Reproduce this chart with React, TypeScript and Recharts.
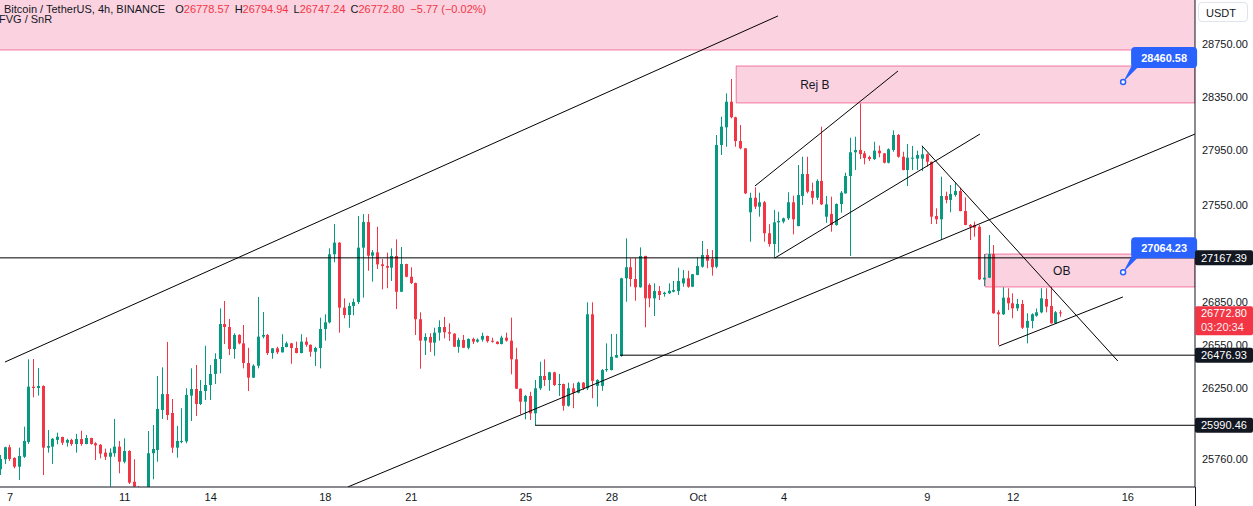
import React from "react";
import { ComposedChart, Bar, XAxis, YAxis, ReferenceArea, ReferenceLine, ReferenceDot } from "recharts";

// BTC/USDT 4h candles, index 0 = Sep 7 00:00 (first two are the partial ones at the left edge)
const FIRST_INDEX = -2;

const opens = [
  25690, 25758, 25840, 25767, 25707, 25775, 25876, 26257, 26248, 26262, 25837, 25844, 25890, 25910, 25871, 25890,
  25862, 25896, 25862, 25903, 25867, 25857, 25803, 25775, 25799, 25844, 25741, 25814, 25605, 25563, 25516, 25540,
  25799, 25821, 26096, 26206, 26075, 25837, 25876, 25880, 26195, 26241, 26137, 26227, 26269, 26346, 26450, 26696,
  26675, 26520, 26619, 26560, 26422, 26320, 26403, 26607, 26619, 26492, 26525, 26497, 26534, 26560, 26527, 26492,
  26572, 26550, 26501, 26527, 26661, 26708, 27193, 27277, 26812, 26760, 26824, 26852, 27241, 27426, 27183, 27207,
  27121, 27109, 27097, 27181, 26925, 27123, 27032, 26987, 26730, 26579, 26605, 26565, 26635, 26675, 26638, 26628,
  26536, 26584, 26529, 26591, 26572, 26586, 26612, 26578, 26572, 26555, 26600, 26579, 26448, 26243, 26153, 26193,
  26073, 26246, 26332, 26304, 26357, 26269, 26276, 26125, 26246, 26215, 26285, 26246, 26765, 26263, 26263, 26373,
  26373, 26460, 26471, 27021, 27100, 27016, 26957, 27181, 26973, 26878, 26930, 26909, 26914, 26925, 26930, 26985,
  27021, 26961, 27045, 27104, 27188, 27159, 27104, 27991, 28122, 28313, 28197, 28020, 27966, 27497, 27603, 27538,
  27570, 27345, 27267, 27424, 27429, 27453, 27570, 27397, 27616, 27777, 27652, 27603, 27726, 27465, 27485, 27405,
  27557, 27635, 27762, 27937, 27954, 27929, 27902, 27887, 27949, 27929, 27860, 27954, 28065, 27904, 27806, 27890,
  27890, 27890, 27922, 27867, 27470, 27446, 27616, 27587, 27623, 27652, 27506, 27405, 27405, 27392, 27013, 27025,
  27195, 26779, 26765, 26883, 26843, 26807, 26838, 26670, 26718, 26755, 26779, 26873, 26824, 26701, 26778.57,
];
const highs = [
  25787, 25844, 25857, 25771, 25837, 25981, 26448, 26450, 26387, 26267, 25958, 25903, 25940, 25912, 25898, 25898,
  25931, 25953, 25924, 25905, 25874, 25862, 25830, 25833, 26034, 25883, 25901, 25819, 25758, 25576, 25563, 25951,
  25992, 26332, 26392, 26570, 26172, 25986, 26108, 26246, 26385, 26408, 26304, 26543, 26408, 26490, 26807, 26859,
  26732, 26631, 26624, 26689, 26529, 26413, 26888, 26781, 26626, 26527, 26536, 26624, 26572, 26562, 26572, 26624,
  26602, 26552, 26536, 26741, 26765, 27236, 27412, 27280, 26878, 26847, 26876, 27470, 27484, 27484, 27224, 27392,
  27159, 27205, 27236, 27301, 27246, 27125, 27100, 26990, 26779, 26631, 26631, 26670, 26722, 26746, 26701, 26631,
  26600, 26619, 26595, 26600, 26595, 26635, 26614, 26600, 26574, 26614, 26635, 26741, 26529, 26245, 26200, 26222,
  26304, 26431, 26448, 26361, 26361, 26346, 26278, 26285, 26281, 26292, 26290, 26850, 26850, 26309, 26380, 26560,
  26626, 26626, 27025, 27308, 27164, 27166, 27243, 27183, 26985, 26985, 26966, 26925, 26985, 27002, 27097, 27080,
  27075, 27052, 27171, 27289, 27231, 27224, 28065, 28201, 28376, 28484, 28201, 28139, 27968, 27640, 27679, 27640,
  27579, 27410, 27514, 27501, 27458, 27643, 27618, 27843, 27904, 27904, 27713, 27738, 28127, 27616, 27611, 27562,
  27652, 27786, 28045, 28052, 28301, 27946, 27912, 28015, 27986, 27931, 27966, 28099, 28072, 27941, 27998, 27984,
  27949, 27986, 27929, 27869, 27526, 27757, 27647, 27696, 27716, 27676, 27606, 27412, 27429, 27405, 27195, 27332,
  27260, 26795, 26957, 26950, 26914, 26874, 26866, 26772, 26772, 26806, 26950, 26950, 26961, 26788, 26794.94,
];
const lows = [
  25651, 25726, 25746, 25696, 25617, 25767, 25862, 26184, 26195, 25651, 25803, 25726, 25860, 25855, 25844, 25850,
  25803, 25850, 25860, 25858, 25753, 25764, 25753, 25572, 25775, 25662, 25730, 25590, 25549, 25482, 25448, 25516,
  25622, 25741, 26034, 26027, 25801, 25769, 25867, 25867, 26020, 26054, 26130, 26165, 26165, 26276, 26350, 26555,
  26478, 26452, 26553, 26385, 26227, 26318, 26385, 26595, 26478, 26452, 26485, 26495, 26532, 26417, 26490, 26490,
  26536, 26466, 26401, 26385, 26579, 26701, 27136, 26635, 26737, 26670, 26758, 26838, 26883, 27075, 26997, 27088,
  26942, 26950, 27002, 26802, 26923, 27028, 26980, 26619, 26382, 26478, 26501, 26473, 26579, 26595, 26577, 26534,
  26494, 26527, 26518, 26555, 26565, 26572, 26565, 26565, 26553, 26553, 26572, 26343, 26241, 26066, 26032, 26027,
  25992, 26234, 26262, 26229, 26262, 26193, 26091, 26119, 26108, 26211, 26234, 26234, 26177, 26119, 26229, 26361,
  26370, 26458, 26466, 26854, 26961, 26861, 26954, 26673, 26815, 26753, 26866, 26890, 26909, 26921, 26902, 26961,
  26954, 26958, 27043, 27097, 27093, 27040, 27093, 27917, 27978, 28189, 27978, 27959, 27630, 27284, 27521, 27465,
  27284, 27248, 27164, 27205, 27417, 27441, 27337, 27395, 27550, 27635, 27555, 27587, 27550, 27421, 27356, 27400,
  27494, 27633, 27181, 27806, 27887, 27848, 27873, 27880, 27900, 27855, 27855, 27941, 27897, 27804, 27689, 27806,
  27806, 27799, 27831, 27412, 27412, 27296, 27562, 27497, 27611, 27504, 27403, 27296, 27320, 27008, 26966, 27023,
  26770, 26548, 26760, 26795, 26737, 26788, 26661, 26560, 26666, 26748, 26772, 26779, 26699, 26696, 26747.24,
];
const closes = [
  25760, 25840, 25760, 25707, 25780, 25883, 26257, 26248, 26262, 25837, 25848, 25898, 25912, 25871, 25890, 25862,
  25896, 25862, 25903, 25862, 25853, 25796, 25775, 25803, 25844, 25741, 25814, 25599, 25573, 25516, 25536, 25799,
  25828, 26103, 26206, 26061, 25837, 25883, 25883, 26200, 26241, 26137, 26227, 26269, 26346, 26450, 26696, 26675,
  26520, 26619, 26560, 26422, 26320, 26403, 26607, 26619, 26492, 26525, 26497, 26534, 26560, 26527, 26492, 26572,
  26550, 26501, 26527, 26661, 26708, 27193, 27277, 26812, 26760, 26824, 26852, 27241, 27426, 27183, 27207, 27121,
  27109, 27097, 27181, 26925, 27123, 27032, 26987, 26730, 26579, 26605, 26565, 26635, 26675, 26638, 26628, 26536,
  26584, 26529, 26591, 26572, 26586, 26612, 26575, 26572, 26555, 26600, 26579, 26448, 26243, 26153, 26193, 26073,
  26246, 26332, 26304, 26357, 26269, 26276, 26125, 26246, 26215, 26285, 26246, 26765, 26297, 26304, 26373, 26380,
  26466, 26478, 27021, 27100, 27016, 26957, 27181, 26878, 26878, 26930, 26902, 26918, 26932, 26937, 27002, 27021,
  26961, 27050, 27109, 27188, 27147, 27100, 27991, 28127, 28313, 28197, 28020, 27966, 27635, 27603, 27538, 27570,
  27345, 27267, 27424, 27434, 27453, 27570, 27446, 27623, 27777, 27647, 27603, 27726, 27555, 27555, 27405, 27557,
  27640, 27762, 27937, 27954, 27924, 27894, 27887, 27949, 27929, 27860, 27959, 28065, 27904, 27806, 27897, 27897,
  27917, 27922, 27867, 27465, 27446, 27616, 27587, 27630, 27652, 27506, 27405, 27392, 27385, 27013, 27025, 27195,
  26772, 26765, 26883, 26843, 26807, 26838, 26670, 26718, 26765, 26779, 26878, 26819, 26701, 26779, 26772.80,
];

const dayTicks = [0, 24, 42, 66, 84, 108, 126, 144, 162, 192, 210, 234];
const dayLabels = ["7", "11", "14", "18", "21", "25", "28", "Oct", "4", "9", "12", "16"];
const priceTicks = [28750, 28350, 27950, 27550, 26850, 26550, 26250, 25760];

const X_MIN = -2.11;
const X_MAX = 248.05;
const Y_MIN = 25569.5;
const Y_MAX = 29085.4;

// drawings: [candle index, price] pairs
const trendLines = [
  [[-1.07, 26429], [160.75, 28963]],
  [[70.73, 25570], [248.05, 28072]],
  [[155.93, 27689], [185.87, 28544]],
  [[160.12, 27167], [203.03, 28072]],
  [[190.9, 27984], [231.9, 26436]],
  [[207.0, 26541], [232.96, 26888]],
];
const levelPrices = [27167.39, 26476.93, 25990.46];
const levelStarts = [X_MIN, 127.7, 109.9];

const zoneTop = { from: X_MIN, low: 28703, high: Y_MAX };
const zoneRej = { from: 152, low: 28304, high: 28582, label: "Rej B", offset: 64 };
const zoneOB = { from: 204.1, low: 26959, high: 27195, label: "OB", offset: 68 };

const noteIndex = 233;
const notePrices = [28460.58, 27064.23];

const lastPrice = 26772.8;
const countdown = "03:20:34";

const legendValues = [
  ["O", "26778.57"],
  ["H", "26794.94"],
  ["L", "26747.24"],
  ["C", "26772.80"],
];
const legendChange = "−5.77 (−0.02%)";

const GREEN = "#089981";
const RED = "#f23645";
const INK = "#131722";
const PINK = "rgba(233,30,99,0.2)";
const PINK_LINE = "rgba(233,30,99,0.55)";
const BLUE = "#2962ff";

const candles = opens.map((o, k) => ({
  i: k + FIRST_INDEX,
  open: o,
  high: highs[k],
  low: lows[k],
  close: closes[k],
  range: [lows[k], highs[k]],
}));

function Candle(props: any) {
  const { x, y, width, height, payload } = props;
  if (x == null || y == null || !payload) return null;
  const { open, close, high, low } = payload;
  const top = Math.min(y, y + height);
  const span = Math.abs(height);
  const lh = Math.log(high);
  const ll = Math.log(low);
  const yOf = (p: number) => (lh === ll ? top : top + (span * (lh - Math.log(p))) / (lh - ll));
  const color = close >= open ? GREEN : RED;
  const cx = Math.round(x + width / 2 - 0.5);
  const bTop = yOf(Math.max(open, close));
  const bBot = yOf(Math.min(open, close));
  return (
    <g>
      <rect x={cx} y={top} width={1} height={Math.max(span, 1)} fill={color} />
      <rect x={cx - 1} y={bTop} width={3} height={Math.max(bBot - bTop, 1)} fill={color} />
    </g>
  );
}

function AxisTag({ cx, cy, text, bg }: any) {
  if (cx == null || cy == null) return null;
  return (
    <g>
      <rect x={cx} y={cy - 7.5} width={58} height={15} fill={bg} rx={2} />
      <text x={cx + 6} y={cy} dy="0.36em" fill="#fff" fontSize={11}>
        {text}
      </text>
    </g>
  );
}

function LastTag({ cx, cy }: any) {
  if (cx == null || cy == null) return null;
  return (
    <g>
      <rect x={cx} y={cy - 7} width={58} height={29} fill={RED} rx={2} />
      <text x={cx + 6} y={cy} dy="0.36em" fill="#fff" fontSize={11}>
        {lastPrice.toFixed(2)}
      </text>
      <text x={cx + 6} y={cy + 14} dy="0.36em" fill="#fff" fontSize={11} opacity={0.9}>
        {countdown}
      </text>
    </g>
  );
}

function Note({ cx, cy, text }: any) {
  if (cx == null || cy == null) return null;
  return (
    <g>
      <path d={`M${cx} ${cy} L${cx + 9} ${cy - 17} L${cx + 14} ${cy - 14} Z`} fill={BLUE} />
      <rect x={cx + 8} y={cy - 35} width={66} height={21} rx={4} fill={BLUE} />
      <text x={cx + 41} y={cy - 24.5} dy="0.36em" textAnchor="middle" fill="#fff" fontSize={11} fontWeight="bold">
        {text}
      </text>
      <circle cx={cx} cy={cy} r={2.5} fill="#fff" stroke={BLUE} strokeWidth={1.5} />
    </g>
  );
}

export default function App() {
  return (
    <div
      style={{
        position: "fixed",
        left: 0,
        top: 0,
        width: 1253,
        height: 506,
        background: "#fff",
        overflow: "hidden",
        fontFamily: "'Liberation Sans', Arial, sans-serif",
      }}
    >
      <ComposedChart width={1253} height={506} data={candles} margin={{ top: 0, right: 0, bottom: 0, left: 0 }}>
        <XAxis
          dataKey="i"
          type="number"
          domain={[X_MIN, X_MAX]}
          allowDataOverflow
          ticks={dayTicks}
          interval={0}
          tickFormatter={(v: number) => dayLabels[dayTicks.indexOf(v)] ?? ""}
          height={19}
          tickLine={false}
          tickSize={0}
          tickMargin={6}
          axisLine={{ stroke: INK }}
          tick={{ fontSize: 11, fill: INK }}
        />
        <YAxis
          orientation="right"
          width={58}
          scale="log"
          domain={[Y_MIN, Y_MAX]}
          allowDataOverflow
          ticks={priceTicks}
          interval={0}
          tickFormatter={(v: number) => v.toFixed(2)}
          tickLine={false}
          tickSize={0}
          tickMargin={7}
          axisLine={{ stroke: INK }}
          tick={{ fontSize: 11, fill: INK, textAnchor: "start" }}
        />

        <ReferenceArea x1={zoneTop.from} x2={X_MAX} y1={zoneTop.low} y2={zoneTop.high} fill={PINK} fillOpacity={1} stroke="none" ifOverflow="hidden" />
        <ReferenceLine segment={[{ x: zoneTop.from, y: zoneTop.low }, { x: X_MAX, y: zoneTop.low }]} stroke={PINK_LINE} ifOverflow="hidden" />
        {[zoneRej, zoneOB].map((z) => (
          <ReferenceArea
            key={z.label}
            x1={z.from}
            x2={X_MAX}
            y1={z.low}
            y2={z.high}
            fill={PINK}
            fillOpacity={1}
            stroke={PINK_LINE}
            ifOverflow="hidden"
            label={{ value: z.label, position: "insideLeft", offset: z.offset, fill: INK, fontSize: 12 }}
          />
        ))}

        {levelPrices.map((p, k) => (
          <ReferenceLine key={p} segment={[{ x: levelStarts[k], y: p }, { x: X_MAX, y: p }]} stroke="#000" ifOverflow="hidden" />
        ))}
        {trendLines.map((s, k) => (
          <ReferenceLine
            key={k}
            segment={[{ x: s[0][0], y: s[0][1] }, { x: s[1][0], y: s[1][1] }]}
            stroke="#000"
            strokeWidth={1}
            ifOverflow="hidden"
          />
        ))}

        <Bar dataKey="range" barSize={5} isAnimationActive={false} shape={(p: any) => <Candle {...p} />} />

        {notePrices.map((p) => (
          <ReferenceDot key={p} x={noteIndex} y={p} ifOverflow="visible" shape={(s: any) => <Note {...s} text={p.toFixed(2)} />} />
        ))}
        {levelPrices.map((p) => (
          <ReferenceDot key={"t" + p} x={X_MAX} y={p} ifOverflow="visible" shape={(s: any) => <AxisTag {...s} text={p.toFixed(2)} bg={INK} />} />
        ))}
        <ReferenceDot x={X_MAX} y={lastPrice} ifOverflow="visible" shape={(s: any) => <LastTag {...s} />} />
      </ComposedChart>

      <div style={{ position: "absolute", left: 1195, top: 487, width: 1, height: 19, background: INK }} />
      <div
        style={{
          position: "absolute",
          left: 1198,
          top: 2,
          width: 50,
          height: 20,
          border: "1px solid #e0e3eb",
          borderRadius: 4,
          background: "#fff",
          fontSize: 11,
          lineHeight: "20px",
          paddingLeft: 7,
          boxSizing: "border-box",
          color: INK,
        }}
      >
        USDT
      </div>

      <div style={{ position: "absolute", top: 3, left: 4, fontSize: 11, lineHeight: "13px", whiteSpace: "nowrap", color: INK }}>
        <span>Bitcoin / TetherUS, 4h, BINANCE</span>
        {legendValues.map(([k, v], n) => (
          <span key={k} style={{ marginLeft: n === 0 ? 10 : 5 }}>
            {k}
            <span style={{ color: RED }}>{v}</span>
          </span>
        ))}
        <span style={{ marginLeft: 6, color: RED }}>{legendChange}</span>
      </div>
      <div style={{ position: "absolute", top: 13, left: -1, fontSize: 11, lineHeight: "13px", whiteSpace: "nowrap", color: INK }}>
        FVG / SnR
      </div>
    </div>
  );
}
